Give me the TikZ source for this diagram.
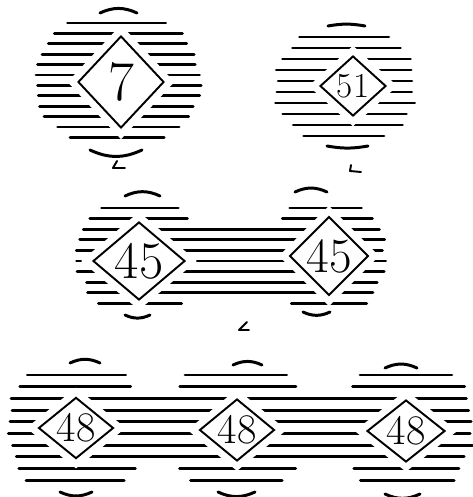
\documentclass[tikz,border=0pt]{standalone}
\usepackage{fontspec}
\usetikzlibrary{shapes.geometric}
\tikzset{
  hatch/.style={line width=1.7pt, line cap=round},
  lozenge/.style={diamond, draw, fill=white, line width=1.1pt, inner sep=0pt,
    aspect=1.2, preaction={draw=white, line width=9pt}},
  tickmark/.style={line width=1.1pt, line cap=round, line join=round},
}
\newcommand\numsize[1]{\fontsize{#1}{#1}\selectfont}

\begin{document}
\begin{tikzpicture}[x=0.02cm, y=-0.02cm]
  \useasboundingbox (0,0) rectangle (473,497);
  \pgfmathsetseed{7}
  % hatched ovals: centre, half axes, first row, row step, rows-1
  \foreach \cx/\cy/\rx/\ry/\yo/\dy/\n in {117/80/82/72/23/10.4/11, 345/86/70/62/37/11/9,
      140/256/62/62/208/10.6/9, 328/256/56/62/208/10.6/9,
      76/427/68/75/375/11.7/9, 237/427/68/75/375/11.7/9, 406/427/66/75/375/11.7/9}
    \foreach \i in {0,...,\n} {
      \pgfmathsetmacro\yy{\yo+\i*\dy}
      \pgfmathsetmacro\q{abs(\yy-\cy)/\ry}
      \pgfmathsetmacro\hw{\rx*sqrt(max(0,1-\q*\q))}
      \draw[hatch] ({\cx-\hw+3*rand},\yy) -- ({\cx+\hw+3*rand},\yy);
    }
  % bands joining the pairs and the row of three
  \foreach \xa/\xb/\yo/\dy/\n in {150/320/229.2/10.6/6, 76/406/398.4/11.7/5}
    \foreach \i in {0,...,\n} {
      \pgfmathsetmacro\yy{\yo+\i*\dy}
      \draw[hatch] ({\xa+3*rand},\yy) -- ({\xb+3*rand},\yy);
    }
  % short curved strokes above and below
  \foreach \xa/\xb/\ya/\b in {100/137/13/25, 90/142/150/-25, 328/365/26/10, 327/368/146/-10,
      125/160/196/25, 125/150/315/-25, 295/327/192/25, 303/330/312/-25,
      70/100/363/25, 233/262/365/25, 385/417/368/25,
      60/92/492/-25, 218/255/492/-25, 385/420/494/-25}
    \draw[hatch] (\xa,\ya) to[bend left=\b] (\xb,\ya);

  \node[lozenge, minimum width=1.72cm, minimum height=1.84cm, font=\numsize{32}] (d7) at (121,82) {7};
  \node[lozenge, minimum width=1.32cm, minimum height=1.2cm, font=\numsize{20}] (d51) at (353,86) {51};
  \node[lozenge, minimum width=1.84cm, minimum height=1.56cm, font=\numsize{30}] (d45a) at (139,261) {45};
  \node[lozenge, aspect=1, minimum width=1.56cm, minimum height=1.56cm, font=\numsize{28}] (d45b) at (329,256) {45};
  \node[lozenge, minimum width=1.5cm, minimum height=1.2cm, font=\numsize{24}] (d48a) at (76,428) {48};
  \node[lozenge, minimum width=1.5cm, minimum height=1.24cm, font=\numsize{24}] (d48b) at (237,430) {48};
  \node[lozenge, minimum width=1.56cm, minimum height=1.24cm, font=\numsize{24}] (d48c) at (406,431) {48};

  % little hooks under the ovals
  \draw[tickmark] (117,161) -- (113,168) -- (125,168);
  \draw[tickmark] (351,165) -- (350,171) -- (361,172);
  \draw[tickmark] (247,322) -- (239,330) -- (249,330);
\end{tikzpicture}
\end{document}
